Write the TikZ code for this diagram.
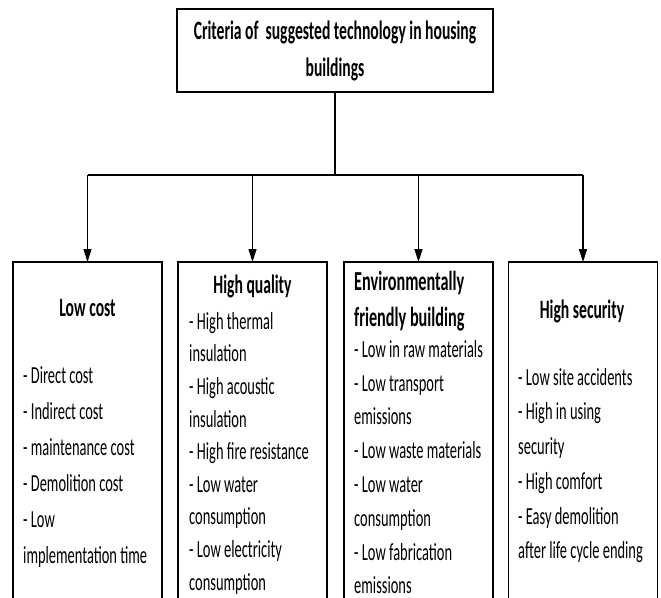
\documentclass[tikz,border=0pt]{standalone}
\usepackage{fontspec}
\setmainfont{Carlito}[FakeStretch=0.59]
\usetikzlibrary{arrows.meta}

\tikzset{
  critbox/.style={draw, line width=1.4pt, minimum width=149pt, minimum height=380pt, anchor=north, inner sep=0pt},
  headtext/.style={font=\fontsize{26.5}{36}\selectfont\bfseries, inner sep=0pt},
  itemtext/.style={font=\fontsize{24.5}{36}\selectfont, align=left, inner sep=0pt, anchor=north west},
  branch/.style={line width=1.3pt, -{Triangle[width=8pt,length=13pt]}}
}

\begin{document}
\begin{tikzpicture}[x=1pt,y=-1pt]
\useasboundingbox (0,0) rectangle (661,597);
\clip (0,0) rectangle (661,597);

% Title box at the top
\node[draw, line width=1.6pt, minimum width=316pt, minimum height=83pt, align=center, inner sep=0pt,
      font=\fontsize{26.5}{37}\selectfont\bfseries] (crit) at (335,50.5)
  {Criteria of\ \ suggested technology in housing\\buildings};

% The four criteria boxes (cut off at the bottom)
\node[critbox] (lc) at (87.5,262) {};
\node[critbox] (hq) at (252.5,262) {};
\node[critbox] (ef) at (418.5,262) {};
\node[critbox] (hs) at (583,262) {};
\foreach \b in {lc,hq,ef,hs}
  \draw[line width=2.6pt] (\b.north west) -- (\b.north east);

% Connectors
\coordinate (bus) at (335,175);
\draw[line width=1.3pt] (crit.south) -- (crit.south |- bus);
\draw[line width=2.6pt] (lc.north |- bus) -- (hs.north |- bus);
\foreach \b in {lc,hq,ef,hs}
  \draw[branch] (\b.north |- bus) -- (\b.north);

% Low cost
\node[headtext, anchor=base] (lchead) at (87.5,316) {Low cost};
\node[itemtext] (lcitems) at (23,363) {\rule{0pt}{20pt}- Direct cost\\- Indirect cost\\- maintenance cost\\- Demolition cost\\- Low\\implementation time};

% High quality
\node[headtext, anchor=base] (hqhead) at (252.5,293) {High quality};
\node[itemtext, font=\fontsize{24.5}{32.6}\selectfont] (hqitems) at (189,309)
  {\rule{0pt}{20pt}- High thermal\\insulation\\- High acoustic\\insulation\\- High fire resistance\\- Low water\\consumption\\- Low electricity\\consumption};

% Environmentally friendly building
\node[headtext, font=\fontsize{27.5}{36}\selectfont\bfseries, align=left, anchor=north west] (efhead) at (354,266)
  {\rule{0pt}{24pt}Environmentally\\friendly building};
\node[itemtext, font=\fontsize{24.5}{33.8}\selectfont] (efitems) at (354,337)
  {\rule{0pt}{20pt}- Low in raw materials\\- Low transport\\emissions\\- Low waste materials\\- Low water\\consumption\\- Low fabrication\\emissions};

% High security
\node[headtext, anchor=base] (hshead) at (582,318) {High security};
\node[itemtext, font=\fontsize{24.5}{34.7}\selectfont] (hsitems) at (518,365)
  {\rule{0pt}{20pt}- Low site accidents\\- High in using\\security\\- High comfort\\- Easy demolition\\after life cycle ending};
\end{tikzpicture}
\end{document}
